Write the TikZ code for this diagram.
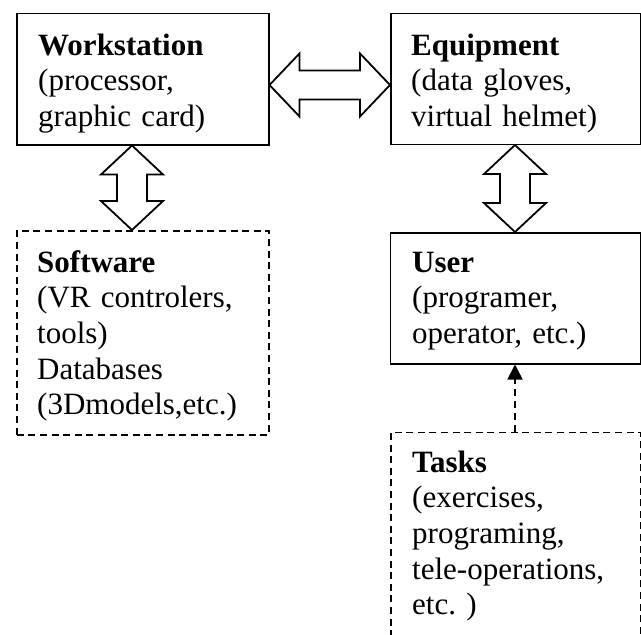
\documentclass[tikz,border=0pt]{standalone}
\usepackage{fontspec}
\setmainfont{Liberation Serif}
\usetikzlibrary{arrows.meta,calc}
\frenchspacing

\tikzset{
  solidbox/.style={draw, line width=1.5pt, rectangle, inner sep=0pt, anchor=north west},
  dashbox/.style={solidbox, line width=1.5pt, dash pattern=on 7pt off 4.6pt},
  boxtext/.style={inner sep=0pt, anchor=base west, text width=230pt, align=left,
    font=\fontsize{31}{35.7}\selectfont},
  blockarrow/.style={draw, line width=1.8pt, fill=white, line join=miter},
  dasharrow/.style={draw, line width=1.8pt, dash pattern=on 7pt off 5pt,
    -{Triangle[length=15pt,width=15pt]}},
}

% hollow double-headed block arrows: head length, head half-width, shaft half-width
\newcommand{\hblockarrow}[2]{%
  \path[blockarrow] let \p1=(#1), \p2=(#2) in
    (\x1,\y1) -- (\x1+30pt,\y1+31.5pt) -- (\x1+30pt,\y1+14.5pt) -- (\x2-30pt,\y1+14.5pt)
    -- (\x2-30pt,\y1+31.5pt) -- (\x2,\y2) -- (\x2-30pt,\y1-31.5pt) -- (\x2-30pt,\y1-14.5pt)
    -- (\x1+30pt,\y1-14.5pt) -- (\x1+30pt,\y1-31.5pt) -- cycle;}
\newcommand{\vblockarrow}[2]{%
  \path[blockarrow] let \p1=(#1), \p2=(#2) in
    (\x1,\y1) -- (\x1+31pt,\y1-29pt) -- (\x1+15pt,\y1-29pt) -- (\x1+15pt,\y2+29pt)
    -- (\x1+31pt,\y2+29pt) -- (\x2,\y2) -- (\x1-31pt,\y2+29pt) -- (\x1-15pt,\y2+29pt)
    -- (\x1-15pt,\y1-29pt) -- (\x1-31pt,\y1-29pt) -- cycle;}

\begin{document}
\begin{tikzpicture}[x=1pt, y=-1pt]
  \useasboundingbox (0,0) rectangle (641,635);
  \clip (0,0) rectangle (641,635);

  % boxes
  \node[solidbox, minimum width=252pt, minimum height=131.3pt] (ws) at (16,12.7) {};
  \node[dashbox,  minimum width=252pt, minimum height=204pt]   (sw) at (16,230) {};
  \node[solidbox, minimum width=250pt, minimum height=130.8pt] (eq) at (390,12.7) {};
  \node[solidbox, minimum width=250.5pt, minimum height=131pt] (us) at (389.5,232) {};
  \node[dashbox,  minimum width=250pt, minimum height=230pt]   (tk) at (390,431.5) {};

  % box texts
  \node[boxtext] (wsT) at (38,55) {\textbf{Workstation}\\(processor,\\graphic card)};
  \node[boxtext] (swT) at (37,272) {\textbf{Software}\\(VR controlers,\\tools)\\Databases\\(3Dmodels,etc.)};
  \node[boxtext] (eqT) at (411,55) {\textbf{Equipment}\\(data gloves,\\virtual helmet)};
  \node[boxtext] (usT) at (412,272) {\textbf{User}\\(programer,\\operator, etc.)};
  \node[boxtext] (tkT) at (412,472) {\textbf{Tasks}\\(exercises,\\programing,\\tele-operations,\\etc. )};

  % connector end points on the box borders
  \coordinate (h1) at (ws.east |- {(0,85)});
  \coordinate (h2) at (eq.west |- {(0,85)});
  \coordinate (v1) at (ws.south -| {(132,0)});
  \coordinate (v2) at (sw.north -| {(132,0)});
  \coordinate (v3) at (eq.south -| {(515,0)});
  \coordinate (v4) at (us.north -| {(515,0)});
  \coordinate (d1) at (tk.north -| {(515,0)});
  \coordinate (d2) at (us.south -| {(515,0)});

  % connectors
  \hblockarrow{h1}{h2}
  \vblockarrow{v1}{v2}
  \vblockarrow{v3}{v4}
  \draw[dasharrow] (d1) -- (d2);
\end{tikzpicture}
\end{document}
